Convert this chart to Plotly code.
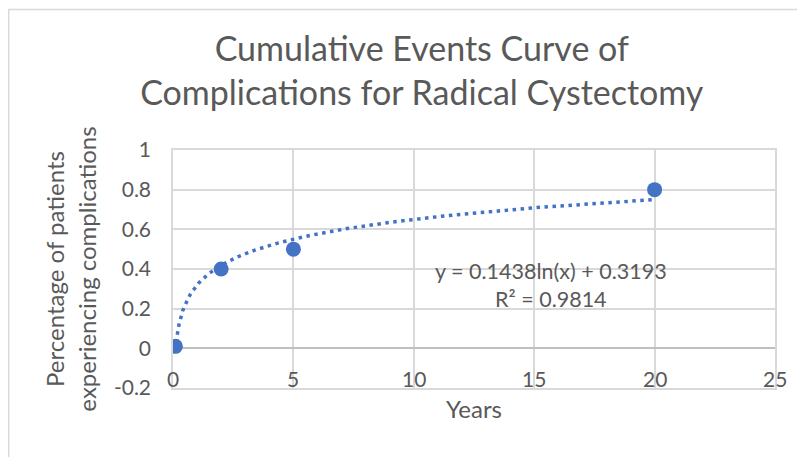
import numpy as np
import plotly.graph_objects as go

# observed data (years, fraction of patients with complications)
years = [0.1, 2, 5, 20]
pct_complications = [0.01, 0.4, 0.5, 0.8]

# Excel logarithmic trendline as shown on the chart
trend_a = 0.1438
trend_b = 0.3193
trend_r2 = 0.9814

x_ticks = [0, 5, 10, 15, 20, 25]
y_ticks = [-0.2, 0, 0.2, 0.4, 0.6, 0.8, 1]
y_tick_text = ["-0.2", "0", "0.2", "0.4", "0.6", "0.8", "1"]

BLUE = "#4472C4"
GRAY = "#595959"
GRID = "#d9d9d9"
FONT = "Lato"

trend_x = np.linspace(min(years), max(years), 400)
trend_y = trend_a * np.log(trend_x) + trend_b

fig = go.Figure()
fig.add_trace(go.Scatter(
    x=trend_x, y=trend_y, mode="lines",
    line=dict(color=BLUE, width=3.5, dash="3.5px,4.5px"),
    hoverinfo="skip", showlegend=False,
))
fig.add_trace(go.Scatter(
    x=years, y=pct_complications, mode="markers",
    marker=dict(color=BLUE, size=15),
    showlegend=False,
))

# x tick labels sit under the y=0 line, as in Excel
for t in x_ticks:
    fig.add_annotation(x=t, y=0, xref="x", yref="y", text=str(t),
                       showarrow=False, yshift=-30,
                       font=dict(size=21, color=GRAY, family=FONT))

fig.add_annotation(
    x=15.7, y=0.32, xref="x", yref="y", showarrow=False,
    text=f"y = {trend_a}ln(x) + {trend_b}<br>R² = {trend_r2}",
    font=dict(size=21.5, color=GRAY, family=FONT),
)

fig.update_layout(
    width=805, height=457,
    margin=dict(l=165, r=38, t=142, b=77),
    paper_bgcolor="white", plot_bgcolor="white",
    font=dict(family=FONT, color=GRAY),
    title=dict(
        text="Cumulative Events Curve of<br>Complications for Radical Cystectomy",
        x=0.514, xanchor="center", y=0.885, yanchor="top",
        font=dict(size=34, color=GRAY, family=FONT),
    ),
    xaxis=dict(
        range=[0, 25], tickvals=x_ticks, showticklabels=False, automargin=False,
        showgrid=True, gridcolor=GRID, gridwidth=1.5,
        zeroline=False, showline=True, linecolor=GRID, linewidth=1.5, mirror=True,
        title=dict(text="Years", font=dict(size=24, color=GRAY, family=FONT), standoff=12),
    ),
    yaxis=dict(
        range=[-0.2, 1], tickvals=y_ticks, ticktext=y_tick_text, automargin=False,
        tickfont=dict(size=21, color=GRAY, family=FONT), ticklabelstandoff=16,
        showgrid=True, gridcolor=GRID, gridwidth=1.5,
        zeroline=True, zerolinecolor="#bfbfbf", zerolinewidth=1.5,
        showline=True, linecolor=GRID, linewidth=1.5, mirror=True, ticks="",
        title=dict(text="Percentage of patients<br>experiencing complications",
                   font=dict(size=24, color=GRAY, family=FONT), standoff=11),
    ),
)

# light chart-area border (top/left edges at the page corner)
fig.add_shape(type="rect", xref="paper", yref="paper",
              x0=-0.273, x1=1.1, y0=-0.4, y1=1.59,
              line=dict(color="#d9d9d9", width=1.5), layer="below")

fig.write_html("out.html")
